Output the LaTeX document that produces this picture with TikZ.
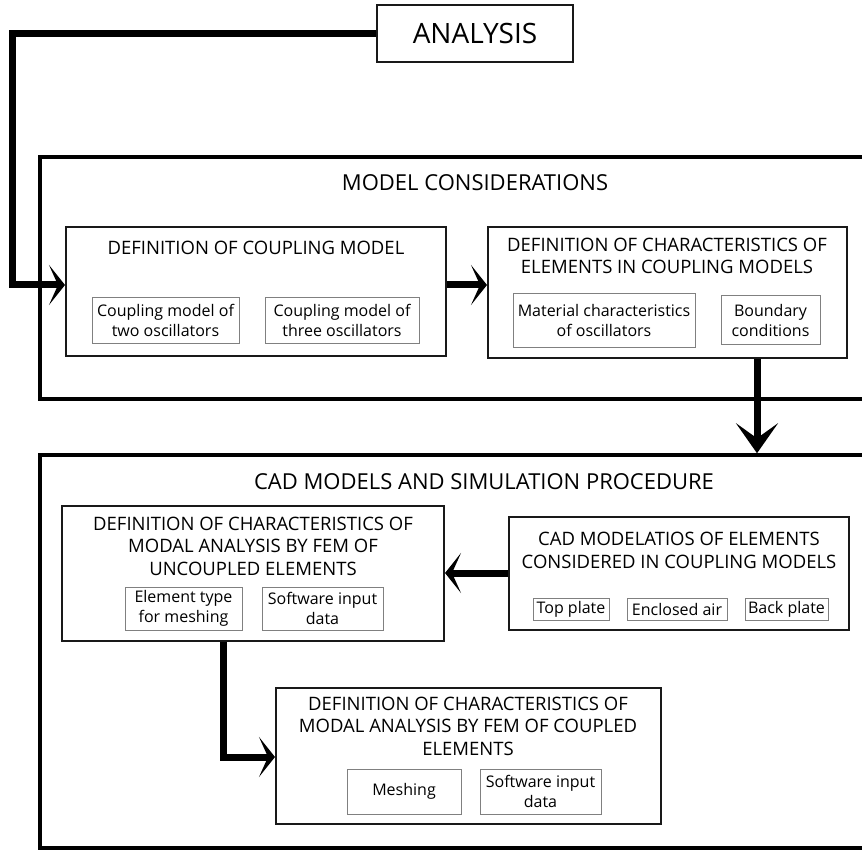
\documentclass[tikz,border=0pt]{standalone}
\usepackage{fontspec}
\setmainfont{Open Sans}
\usetikzlibrary{arrows.meta}
\tikzset{
  outerbox/.style={draw=black, line width=3.5pt, rectangle, inner sep=0pt},
  midbox/.style={draw=black!90, line width=2pt, rectangle, inner sep=0pt},
  subbox/.style={draw=black!50, line width=1pt, rectangle, inner sep=0pt, align=center, font=\fontsize{16}{20}\selectfont},
  sectitle/.style={inner sep=0pt, font=\fontsize{22}{26}\selectfont},
  boxtitle/.style={inner sep=0pt, align=center, font=\fontsize{18.5}{22.5}\selectfont},
  conn/.style={line width=7pt, -{Stealth[length=16pt,width=40pt,inset=9pt]}},
  connlong/.style={line width=7pt, -{Stealth[length=30pt,width=42pt,inset=15pt]}},
}
\begin{document}
\begin{tikzpicture}[x=1pt,y=-1pt]
\useasboundingbox (0,0) rectangle (862,850);
\clip (0,0) rectangle (862,850);

% top
\node[midbox, minimum width=196pt, minimum height=57pt, font=\fontsize{28}{30}\selectfont] (analysis) at (475,33.5) {ANALYSIS};

% model considerations
\node[outerbox, minimum width=860pt, minimum height=242pt] (model) at (470,278) {};
\node[sectitle] (modeltitle) at (475,183) {MODEL CONSIDERATIONS};

\node[midbox, minimum width=380pt, minimum height=129pt] (cm) at (256,291.5) {};
\node[boxtitle] (cmtitle) at (256,248) {DEFINITION OF COUPLING MODEL};
\node[subbox, minimum width=147pt, minimum height=45pt] (two) at (165.5,320.5) {Coupling model of\\two oscillators};
\node[subbox, minimum width=154pt, minimum height=45pt] (three) at (342,320.5) {Coupling model of\\three oscillators};

\node[midbox, minimum width=359pt, minimum height=131pt] (dc) at (667.5,292.5) {};
\node[boxtitle] (dctitle) at (667,256) {DEFINITION OF CHARACTERISTICS OF\\ELEMENTS IN COUPLING MODELS};
\node[subbox, minimum width=182pt, minimum height=53pt] (mat) at (604,320.5) {Material characteristics\\of oscillators};
\node[subbox, minimum width=99pt, minimum height=48pt] (bc) at (770.5,320) {Boundary\\conditions};

% CAD
\node[outerbox, minimum width=860pt, minimum height=393pt] (cad) at (470,651.5) {};
\node[sectitle] (cadtitle) at (484,482) {CAD MODELS AND SIMULATION PROCEDURE};

\node[midbox, minimum width=382pt, minimum height=135pt] (unc) at (253,573.5) {};
\node[boxtitle] (unctitle) at (253,546) {DEFINITION OF CHARACTERISTICS OF\\MODAL ANALYSIS BY FEM OF\\UNCOUPLED ELEMENTS};
\node[subbox, minimum width=117pt, minimum height=43pt] (etype) at (183.5,608.5) {Element type\\for meshing};
\node[subbox, minimum width=121pt, minimum height=43pt] (sw1) at (322.5,608.5) {Software input\\data};

\node[midbox, minimum width=340pt, minimum height=113pt] (cadm) at (679,573.5) {};
\node[boxtitle] (cadmtitle) at (679,550.5) {CAD MODELATIOS OF ELEMENTS\\CONSIDERED IN COUPLING MODELS};
\node[subbox, minimum width=76pt, minimum height=22pt] (top) at (571,609) {Top plate};
\node[subbox, minimum width=100pt, minimum height=22pt] (air) at (677,609) {Enclosed air};
\node[subbox, minimum width=83pt, minimum height=22pt] (back) at (786.5,609) {Back plate};

\node[midbox, minimum width=385pt, minimum height=136pt] (cpl) at (468.5,756) {};
\node[boxtitle] (cpltitle) at (468,726) {DEFINITION OF CHARACTERISTICS OF\\MODAL ANALYSIS BY FEM OF COUPLED\\ELEMENTS};
\node[subbox, minimum width=114pt, minimum height=45pt] (mesh) at (404,791.5) {Meshing};
\node[subbox, minimum width=121pt, minimum height=45pt] (sw2) at (540.5,791.5) {Software input\\data};

% connectors
\coordinate (ya) at (0,285);
\coordinate (xl) at (12,0);
\coordinate (xd) at (757,0);
\coordinate (yr) at (0,573);
\coordinate (xu) at (223,0);
\coordinate (yb) at (0,757);

\draw[conn] (analysis.west) -| (xl |- ya) -- (cm.west |- ya);
\draw[conn] (cm.east |- ya) -- (dc.west |- ya);
\draw[connlong] (dc.south -| xd) -- (cad.north -| xd);
\draw[conn] (cadm.west |- yr) -- (unc.east |- yr);
\draw[conn] (unc.south -| xu) |- (cpl.west |- yb);
\end{tikzpicture}
\end{document}
